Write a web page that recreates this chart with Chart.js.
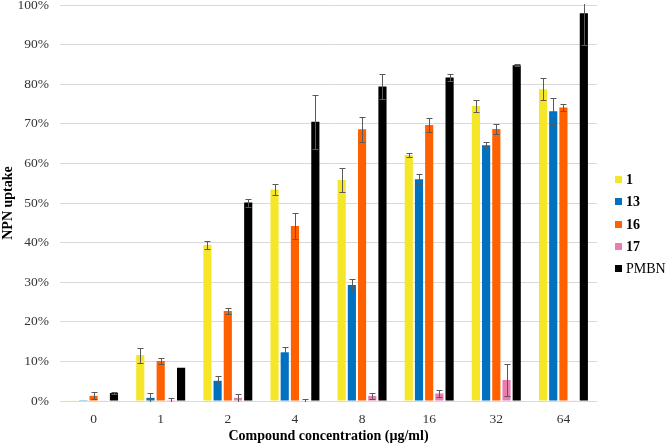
<!DOCTYPE html>
<html>
<head>
<meta charset="utf-8">
<script src="https://cdn.jsdelivr.net/npm/chart.js@4"></script>
<style>
  body { margin: 0; background: #fff; }
  #wrap { position: relative; width: 666px; height: 445px; }
  #legend { position: absolute; left: 615px; top: 169px; font-family: 'Liberation Serif', serif; font-size: 14px; color: #000; }
  #legend div { height: 22.3px; line-height: 22px; white-space: nowrap; }
  #legend span.box { display: inline-block; width: 7px; height: 7px; margin-right: 4px; vertical-align: 1px; }
</style>
</head>
<body>
<div id="wrap">
  <canvas id="chart" width="666" height="445"></canvas>
  <div id="legend"></div>
</div>
<script>
// ─── DONNÉES ─────────────────────────────────────────────────────────────
const categories = ['0', '1', '2', '4', '8', '16', '32', '64'];
const yTicks = [0, 10, 20, 30, 40, 50, 60, 70, 80, 90, 100];

const seriesNames = ['1', '13', '16', '17', 'PMBN'];
const seriesBold  = [true, true, true, true, false];
const seriesColors = ['#F5E62A', '#0070C0', '#FF6100', '#E97DAF', '#000000'];

const val1    = [0.1, 11.6, 39.4, 53.4, 55.8, 62.1, 74.5, 78.7];
const val13   = [0.2,  0.8,  5.1, 12.3, 29.3, 56.0, 64.6, 73.2];
const val16   = [1.3, 10.1, 22.7, 44.2, 68.6, 69.7, 68.7, 74.1];
const val17   = [0.1,  0.2,  0.8,  0.1,  1.3,  1.9,  5.3,  0.1];
const valPMBN = [2.0,  8.4, 50.1, 70.5, 79.4, 81.7, 84.8, 97.9];

const err1    = [0.0, 1.9, 1.0, 1.5, 3.0, 0.5, 1.4, 2.8];
const err13   = [0.0, 1.3, 1.1, 1.3, 1.4, 1.2, 0.9, 3.2];
const err16   = [0.9, 0.8, 0.8, 3.2, 3.2, 1.8, 1.15, 0.8];
const err17   = [0.0, 0.6, 1.0, 0.5, 0.7, 1.0, 4.0, 0.0];
const errPMBN = [0.3, 0.0, 1.0, 6.8, 3.1, 0.8, 0.3, 8.0];

const values = [val1, val13, val16, val17, valPMBN];
const errors = [err1, err13, err16, err17, errPMBN];

// ─── BARRES D'ERREUR ─────────────────────────────────────────────────────
const errorBars = {
    id: 'errorBars',
    afterDatasetsDraw(chart) {
        const { ctx, chartArea, scales: { y } } = chart;
        ctx.save();
        ctx.beginPath();
        ctx.rect(chartArea.left, chartArea.top - 1, chartArea.width, chartArea.height + 2);
        ctx.clip();
        ctx.strokeStyle = '#5a5a5a';
        ctx.lineWidth = 1;
        chart.data.datasets.forEach((ds, i) => {
            const meta = chart.getDatasetMeta(i);
            meta.data.forEach((bar, j) => {
                const e = ds.errors[j];
                if (!e) return;
                const v = ds.data[j];
                const x = Math.round(bar.x) + 0.5;
                const top = Math.round(y.getPixelForValue(v + e)) + 0.5;
                const bot = Math.round(y.getPixelForValue(v - e)) + 0.5;
                ctx.beginPath();
                ctx.moveTo(x, top); ctx.lineTo(x, bot);
                ctx.moveTo(x - 3, top); ctx.lineTo(x + 3, top);
                ctx.moveTo(x - 3, bot); ctx.lineTo(x + 3, bot);
                ctx.stroke();
            });
        });
        ctx.restore();
    }
};

const serif = "'Liberation Serif', 'Times New Roman', serif";

new Chart(document.getElementById('chart'), {
    type: 'bar',
    data: {
        labels: categories,
        datasets: seriesNames.map((name, i) => ({
            label: name,
            data: values[i],
            errors: errors[i],
            backgroundColor: seriesColors[i],
            borderWidth: 0,
            categoryPercentage: 0.76,
            barPercentage: 0.8
        }))
    },
    options: {
        responsive: false,
        animation: false,
        layout: { padding: { top: 5, right: 69, left: 0, bottom: 0 } },
        plugins: {
            legend: { display: false },
            tooltip: { enabled: false }
        },
        scales: {
            x: {
                grid: { display: false },
                border: { display: false },
                ticks: { color: '#333', font: { family: serif, size: 13.5 }, padding: 2 },
                title: {
                    display: true,
                    text: 'Compound concentration (µg/ml)',
                    color: '#000',
                    font: { family: serif, size: 14, weight: 'bold' },
                    padding: { top: 0, bottom: 0 }
                },
                afterFit: s => { s.height = 44; }
            },
            y: {
                min: 0, max: 100,
                afterBuildTicks: s => { s.ticks = yTicks.map(v => ({ value: v })); },
                grid: { color: '#d9d9d9', drawTicks: false },
                border: { display: false },
                ticks: {
                    color: '#333',
                    font: { family: serif, size: 13.5 },
                    padding: 11,
                    callback: v => v + '%'
                },
                title: {
                    display: true,
                    text: 'NPN uptake',
                    color: '#000',
                    font: { family: serif, size: 14, weight: 'bold' },
                    padding: { top: 0, bottom: 0 }
                },
                afterFit: s => { s.width = 60; s.paddingTop = 0; s.paddingBottom = 0; }
            }
        }
    },
    plugins: [errorBars]
});

// ─── LÉGENDE ─────────────────────────────────────────────────────────────
const legendEl = document.getElementById('legend');
seriesNames.forEach((name, i) => {
    const row = document.createElement('div');
    row.innerHTML = `<span class="box" style="background:${seriesColors[i]}"></span>` +
        `<span style="font-weight:${seriesBold[i] ? 'bold' : 'normal'}">${name}</span>`;
    legendEl.appendChild(row);
});
</script>
</body>
</html>
